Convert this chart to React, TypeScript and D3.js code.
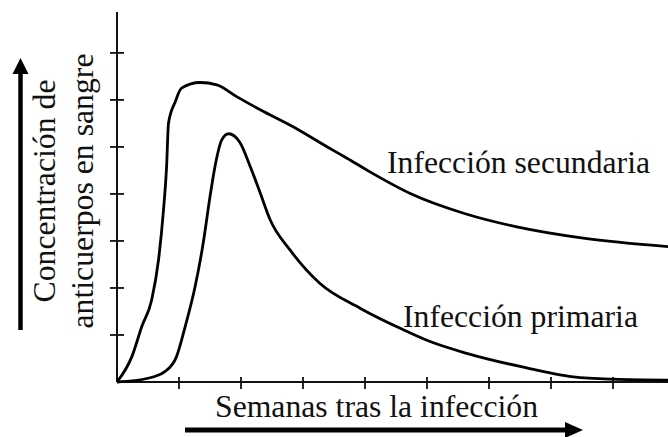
import React, { useEffect, useRef } from 'react';
import * as d3 from 'd3';

// weeks after infection vs antibody level (axis units)
const secondaryWeeks = [0, 0.24, 0.4, 0.56, 0.67, 0.75, 0.8, 0.83, 0.94, 1.04, 1.34, 1.61, 1.93, 2.31, 2.84, 3.38, 3.71, 4.08, 4.73, 5.59, 6.45, 7.52, 8.89];
const secondaryLevels = [0, 0.54, 1.18, 1.75, 2.6, 3.66, 4.58, 5.5, 5.96, 6.25, 6.37, 6.32, 6.07, 5.79, 5.43, 5.01, 4.76, 4.47, 4.01, 3.59, 3.3, 3.06, 2.88];

const primaryWeeks = [0, 0.5, 0.77, 0.96, 1.1, 1.26, 1.39, 1.5, 1.58, 1.69, 1.8, 1.98, 2.15, 2.31, 2.47, 2.79, 3.27, 3.92, 4.62, 5.05, 5.64, 6.5, 7.36, 8.0, 8.89];
const primaryLevels = [0, 0.08, 0.22, 0.54, 1.18, 2.03, 2.95, 3.94, 4.58, 5.15, 5.28, 5.1, 4.58, 4.02, 3.45, 2.81, 2.1, 1.57, 1.11, 0.86, 0.61, 0.33, 0.11, 0.06, 0.04];

const xTicks = [1, 2, 3, 4, 5, 6, 7, 8];
const yTicks = [1, 2, 3, 4, 5, 6, 7];

const xTitle = 'Semanas tras la infección';
const yTitle = ['Concentración de', 'anticuerpos en sangre'];
const secondaryLabel = 'Infección secundaria';
const primaryLabel = 'Infección primaria';

const App = () => {
  const svgRef = useRef<SVGSVGElement>(null);

  useEffect(() => {
    const width = 668;
    const height = 437;
    const font = "'Liberation Serif', 'Times New Roman', Times, serif";

    const svg = d3.select(svgRef.current);
    svg.selectAll('*').remove();
    svg.attr('viewBox', [0, 0, width, height]).attr('width', width).attr('height', height);

    const x = d3.scaleLinear().domain([0, 8.887]).range([117, 668]);
    const y = d3.scaleLinear().domain([0, 7.87]).range([382, 12]);

    // axes
    svg.append('line')
      .attr('x1', x(0)).attr('x2', x(0))
      .attr('y1', y(0)).attr('y2', y(7.87))
      .attr('stroke', '#111').attr('stroke-width', 2);

    svg.append('line')
      .attr('x1', x(0)).attr('x2', x(8.887))
      .attr('y1', y(0)).attr('y2', y(0))
      .attr('stroke', '#111').attr('stroke-width', 2);

    svg.selectAll('.ytick')
      .data(yTicks)
      .join('line')
      .attr('class', 'ytick')
      .attr('x1', x(0) - 7).attr('x2', x(0) + 7)
      .attr('y1', d => y(d)).attr('y2', d => y(d))
      .attr('stroke', '#111').attr('stroke-width', 1.8);

    svg.selectAll('.xtick')
      .data(xTicks)
      .join('line')
      .attr('class', 'xtick')
      .attr('x1', d => x(d)).attr('x2', d => x(d))
      .attr('y1', y(0) - 5).attr('y2', y(0) + 7)
      .attr('stroke', '#111').attr('stroke-width', 1.8);

    // curves
    const line = d3.line<[number, number]>()
      .x(d => x(d[0]))
      .y(d => y(d[1]))
      .curve(d3.curveMonotoneX);

    const curves = [
      secondaryWeeks.map((w, i) => [w, secondaryLevels[i]] as [number, number]),
      primaryWeeks.map((w, i) => [w, primaryLevels[i]] as [number, number]),
    ];

    svg.selectAll('.curve')
      .data(curves)
      .join('path')
      .attr('class', 'curve')
      .attr('d', d => line(d))
      .attr('fill', 'none')
      .attr('stroke', '#000')
      .attr('stroke-width', 2.8)
      .attr('stroke-linejoin', 'round');

    // arrows
    svg.append('line')
      .attr('x1', 20.5).attr('x2', 20.5).attr('y1', 330).attr('y2', 70)
      .attr('stroke', '#000').attr('stroke-width', 4.5);
    svg.append('path')
      .attr('d', 'M20.5,58 L28.5,74 L12.5,74 Z')
      .attr('fill', '#000');

    svg.append('line')
      .attr('x1', 185).attr('x2', 570).attr('y1', 430).attr('y2', 430)
      .attr('stroke', '#000').attr('stroke-width', 5);
    svg.append('path')
      .attr('d', 'M583,430 L565,422 L565,438 Z')
      .attr('fill', '#000');

    // text
    const addText = (t: string, tx: number, ty: number, len: number, rotate = false, anchor = 'start') => {
      svg.append('text')
        .attr('transform', rotate ? `translate(${tx},${ty}) rotate(-90)` : `translate(${tx},${ty})`)
        .attr('text-anchor', anchor)
        .style('font-family', font)
        .attr('font-size', 31.5)
        .attr('fill', '#111')
        .attr('textLength', len)
        .attr('lengthAdjust', 'spacingAndGlyphs')
        .text(t);
    };

    addText(secondaryLabel, 387, 173, 263);
    addText(primaryLabel, 403, 327, 235);
    addText(xTitle, 215, 417, 323);
    addText(yTitle[0], 55, 191, 223, true, 'middle');
    addText(yTitle[1], 93, 191, 275, true, 'middle');
  });

  return (
    <svg ref={svgRef} style={{ position: 'absolute', left: 0, top: 0, background: '#fff' }}></svg>
  );
};

export default App;
